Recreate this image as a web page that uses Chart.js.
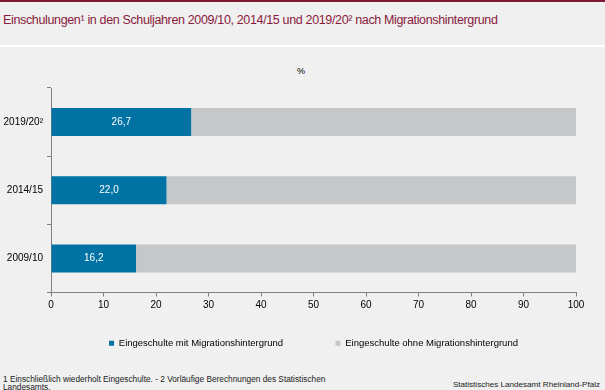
<!DOCTYPE html>
<html>
<head>
<meta charset="utf-8">
<script src="https://cdn.jsdelivr.net/npm/chart.js@4.4.1/dist/chart.umd.min.js"></script>
<style>
  html, body { margin: 0; padding: 0; }
  body { width: 605px; height: 390px; background: #eff0ef; position: relative; overflow: hidden; font-family: "Liberation Sans", Arial, sans-serif; }
  #topbar { position: absolute; left: 0; top: 0; width: 605px; height: 2px; background: #7d1b35; }
  #title { position: absolute; left: 3px; top: 13px; font-size: 12.5px; color: #8a1a3c; letter-spacing: -0.35px; }
  #sep { position: absolute; left: 0; top: 45px; width: 605px; height: 2px; background: #ffffff; }
  #unit { position: absolute; left: 297px; top: 66px; font-size: 9px; color: #000; }
  #wrap { position: absolute; left: 0; top: 48px; width: 605px; height: 310px; }
  .foot { position: absolute; color: #222; line-height: 8px; }
</style>
</head>
<body>
<div id="topbar"></div>
<div id="title">Einschulungen¹ in den Schuljahren 2009/10, 2014/15 und 2019/20² nach Migrationshintergrund</div>
<div id="sep"></div>
<div id="unit">%</div>
<div id="wrap"><canvas id="chart"></canvas></div>
<div class="foot" style="left:3px; top:375px; font-size:8.3px;">1 Einschließlich wiederholt Eingeschulte. - 2 Vorläufige Berechnungen des Statistischen<br>Landesamts.</div>
<div class="foot" style="right:5px; top:381px; font-size:8.1px;">Statistisches Landesamt Rheinland-Pfalz</div>
<script>
// Data
const years = ["2019/20²", "2014/15", "2009/10"];
const withMigration = [26.7, 22.0, 16.2];
const withoutMigration = [73.3, 78.0, 83.8];
const xTicks = [0, 10, 20, 30, 40, 50, 60, 70, 80, 90, 100];
const seriesNames = ["Eingeschulte mit Migrationshintergrund", "Eingeschulte ohne Migrationshintergrund"];

const blue = "#0072a3";
const grey = "#c6c7c8";
const axisGrey = "#808080";
const fontFam = "'Liberation Sans', Arial, sans-serif";

// labels inside blue bars
const barLabels = {
  id: "barLabels",
  afterDatasetsDraw(chart) {
    const ctx = chart.ctx;
    const meta = chart.getDatasetMeta(0);
    ctx.save();
    ctx.fillStyle = "#ffffff";
    ctx.font = "10px " + fontFam;
    ctx.textAlign = "center";
    ctx.textBaseline = "middle";
    meta.data.forEach((bar, i) => {
      const cx = (bar.base + bar.x) / 2;
      ctx.fillText(withMigration[i].toFixed(1).replace(".", ","), cx, bar.y);
    });
    ctx.restore();
  }
};

new Chart(document.getElementById("chart"), {
  type: "bar",
  data: {
    labels: years,
    datasets: [
      { label: seriesNames[0], data: withMigration, backgroundColor: blue },
      { label: seriesNames[1], data: withoutMigration, backgroundColor: grey }
    ]
  },
  options: {
    indexAxis: "y",
    responsive: true,
    maintainAspectRatio: false,
    animation: false,
    categoryPercentage: 1,
    barPercentage: 0.41,
    layout: { padding: { top: 40, right: 29, left: 0, bottom: 0 } },
    scales: {
      x: {
        stacked: true,
        min: 0, max: 100,
        afterBuildTicks: s => { s.ticks = xTicks.map(v => ({ value: v })); },
        grid: { drawOnChartArea: false, color: axisGrey, tickLength: 4, tickColor: axisGrey },
        border: { color: axisGrey, width: 1 },
        ticks: { color: "#000", font: { size: 10, family: fontFam }, padding: 3, maxRotation: 0 }
      },
      y: {
        stacked: true,
        afterFit: s => { s.width = 51; },
        grid: { drawOnChartArea: false, offset: true, color: axisGrey, tickLength: 4, tickColor: axisGrey },
        border: { color: axisGrey, width: 1 },
        ticks: { color: "#000", font: { size: 10, family: fontFam }, padding: 4 }
      }
    },
    plugins: {
      legend: {
        position: "bottom",
        fullSize: false,
        labels: {
          boxWidth: 5, boxHeight: 5, padding: 24,
          color: "#000",
          font: { size: 9.5, family: fontFam },
          generateLabels: chart => chart.data.datasets.map((ds, i) => ({
            // extra spacing after the first entry, like the original
            text: i === 0 ? ds.label + "\u2003\u2003\u2003" : ds.label,
            fillStyle: ds.backgroundColor,
            strokeStyle: ds.backgroundColor,
            lineWidth: 0,
            datasetIndex: i
          }))
        }
      },
      tooltip: { enabled: false }
    }
  },
  plugins: [barLabels]
});
</script>
</body>
</html>
